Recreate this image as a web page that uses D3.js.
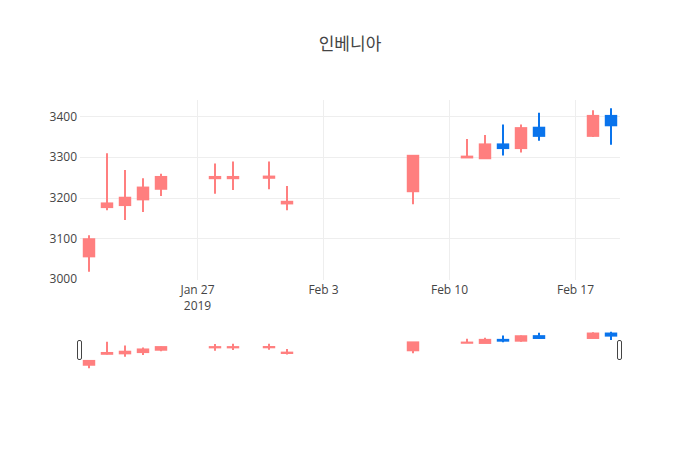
<!DOCTYPE html>
<html>
<head>
<meta charset="utf-8">
<script src="https://cdn.jsdelivr.net/npm/d3@7"></script>
<style>
  html, body { margin: 0; padding: 0; background: #fff; }
  text { font-family: "Open Sans", "Noto Sans", sans-serif; fill: #444; }
  .title { font-family: "Noto Sans CJK KR", "Open Sans", sans-serif; font-size: 17px; }
</style>
</head>
<body>
<svg id="chart"></svg>
<script>
/* ------------ DATA ---------------------------------------------------- */
const title = '인베니아';
const dates = ['2019-01-21', '2019-01-22', '2019-01-23', '2019-01-24', '2019-01-25',
               '2019-01-28', '2019-01-29', '2019-01-31', '2019-02-01', '2019-02-08',
               '2019-02-11', '2019-02-12', '2019-02-13', '2019-02-14', '2019-02-15',
               '2019-02-18', '2019-02-19'];
const open  = [3056, 3177, 3182, 3196, 3222, 3248, 3248, 3249, 3186, 3216, 3299, 3297, 3331, 3322, 3372, 3352, 3401];
const high  = [3108, 3309, 3268, 3248, 3259, 3284, 3289, 3289, 3229, 3303, 3344, 3354, 3380, 3380, 3409, 3415, 3420];
const low   = [3018, 3169, 3145, 3165, 3204, 3210, 3219, 3221, 3169, 3184, 3299, 3297, 3304, 3311, 3340, 3349, 3330];
const close = [3098, 3186, 3200, 3225, 3251, 3251, 3251, 3252, 3190, 3303, 3301, 3331, 3322, 3371, 3352, 3401, 3378];
const yTicks = [3000, 3100, 3200, 3300, 3400];
const xTicks = ['2019-01-27', '2019-02-03', '2019-02-10', '2019-02-17'];

/* ------------ CONFIG -------------------------------------------------- */
const W = 700, H = 450;
const M = { l: 80, r: 80, t: 100 };
const mainBottom = 280;
const slider = { top: 330, bottom: 370 };
const UP = '#ff7f7f', DOWN = '#0a74ec';

const parse = d3.utcParse('%Y-%m-%d');
const rows = dates.map((d, i) => ({
  date: parse(d), o: open[i], h: high[i], l: low[i], c: close[i]
}));

const svg = d3.select('#chart').attr('width', W).attr('height', H);

/* ------------ SCALES -------------------------------------------------- */
const half = 12 * 3600 * 1000;
const x = d3.scaleUtc()
  .domain([+d3.min(rows, d => d.date) - half, +d3.max(rows, d => d.date) + half])
  .range([M.l, W - M.r]);

const lo = d3.min(rows, d => d.l), hi = d3.max(rows, d => d.h);
const pad = (hi - lo) * 0.05;
const y = d3.scaleLinear().domain([lo - pad, hi + pad]).range([mainBottom, M.t]);
const ys = d3.scaleLinear().domain(y.domain()).range([slider.bottom, slider.top]);

/* ------------ GRID ---------------------------------------------------- */
const grid = svg.append('g');
grid.selectAll('line.h').data(yTicks.filter(d => y(d) < mainBottom - 2)).join('line')
  .attr('x1', M.l).attr('x2', W - M.r)
  .attr('y1', d => Math.round(y(d)) + 0.5).attr('y2', d => Math.round(y(d)) + 0.5)
  .attr('stroke', '#eee');
grid.selectAll('line.v').data(xTicks.map(parse)).join('line')
  .attr('x1', d => Math.round(x(d)) + 0.5).attr('x2', d => Math.round(x(d)) + 0.5)
  .attr('y1', M.t).attr('y2', mainBottom)
  .attr('stroke', '#eee');

/* ------------ AXES ---------------------------------------------------- */
const yAxis = d3.axisLeft(y).tickValues(yTicks).tickSize(0).tickPadding(3).tickFormat(d3.format('d'));
svg.append('g').attr('transform', `translate(${M.l},0)`).call(yAxis)
  .call(g => g.select('.domain').remove())
  .call(g => g.selectAll('text').style('font-size', '12px').attr('fill', '#444'));

const fmt = d3.utcFormat('%b %-d');
const xAxis = d3.axisBottom(x).tickValues(xTicks.map(parse)).tickSize(0).tickPadding(5).tickFormat(fmt);
const xg = svg.append('g').attr('transform', `translate(0,${mainBottom})`).call(xAxis)
  .call(g => g.select('.domain').remove());
xg.selectAll('text').style('font-size', '12px').attr('fill', '#444');
// year on a second line under the first tick
xg.selectAll('.tick').filter((d, i) => i === 0).append('text')
  .attr('y', 21).attr('dy', '0.71em').attr('text-anchor', 'middle')
  .style('font-size', '12px').attr('fill', '#444')
  .text(d3.utcFormat('%Y'));

/* ------------ CANDLES ------------------------------------------------- */
const bodyW = 0.58 * (x(parse('2019-01-22')) - x(parse('2019-01-21')));

function drawCandles(layer, ys, lw) {
  const g = layer.selectAll('g.candle').data(rows).join('g').attr('class', 'candle');
  g.each(function (d) {
    const col = d.c >= d.o ? UP : DOWN;
    const cx = x(d.date);
    const sel = d3.select(this);
    sel.append('line')
      .attr('x1', cx).attr('x2', cx)
      .attr('y1', ys(d.h)).attr('y2', ys(d.l))
      .attr('stroke', col).attr('stroke-width', lw);
    const top = ys(Math.max(d.o, d.c)), bot = ys(Math.min(d.o, d.c));
    sel.append('rect')
      .attr('x', cx - bodyW / 2).attr('width', bodyW)
      .attr('y', top).attr('height', Math.max(0, bot - top))
      .attr('fill', col).attr('stroke', col).attr('stroke-width', lw);
  });
}

drawCandles(svg.append('g'), y, 2);

/* ------------ RANGE SLIDER ------------------------------------------- */
const sl = svg.append('g');
drawCandles(sl.append('g'), ys, 2);

const hTop = slider.top + (slider.bottom - slider.top) / 4;
const hH = (slider.bottom - slider.top) / 2;
sl.selectAll('rect.handle').data(x.range()).join('rect')
  .attr('class', 'handle')
  .attr('x', d => d - 2.5).attr('y', hTop + 0.5)
  .attr('width', 4).attr('height', hH - 1)
  .attr('rx', 1.5)
  .attr('fill', '#fff').attr('stroke', '#444').attr('stroke-width', 1);

/* ------------ TITLE --------------------------------------------------- */
svg.append('text').attr('class', 'title')
  .attr('x', W / 2).attr('y', 50)
  .attr('text-anchor', 'middle')
  .text(title);
</script>
</body>
</html>
